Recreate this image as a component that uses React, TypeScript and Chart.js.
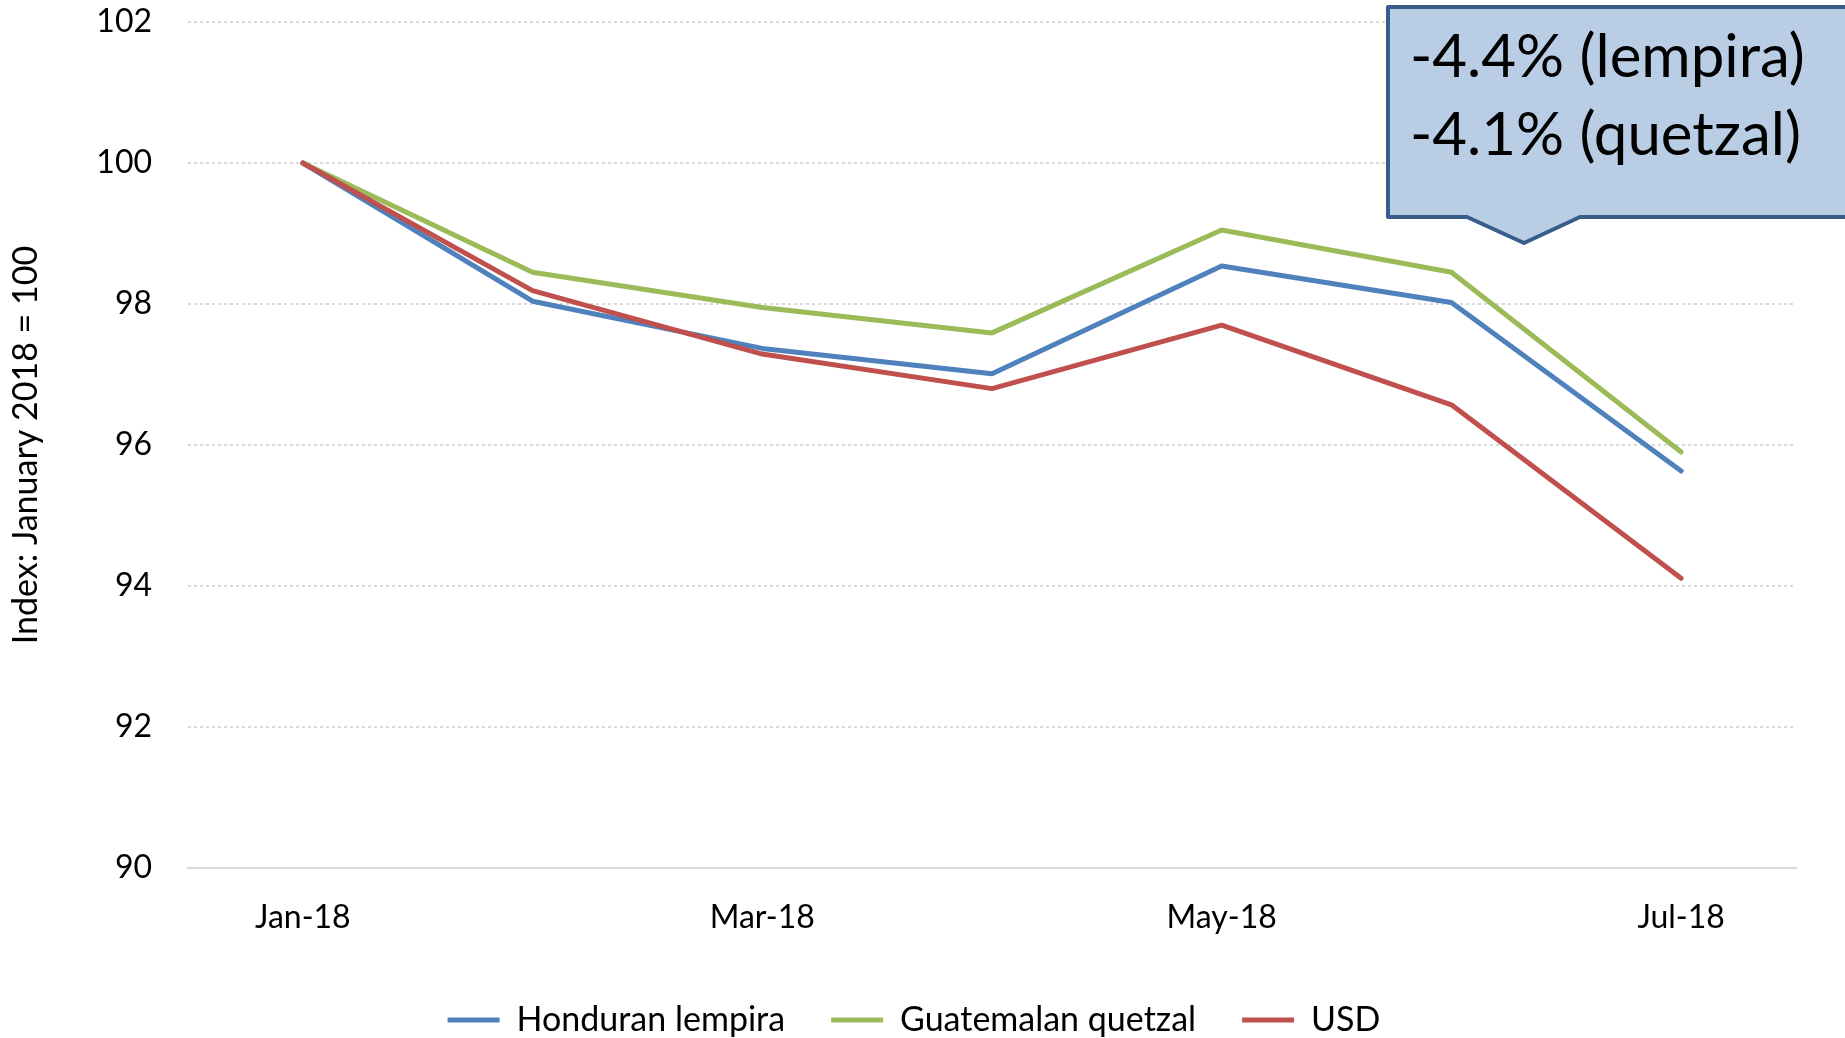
import React, { useEffect, useRef } from "react";
import { Chart, registerables } from "chart.js";

Chart.register(...registerables);

// ---- data ----
const categories = ["Jan-18", "Feb-18", "Mar-18", "Apr-18", "May-18", "Jun-18", "Jul-18"];
const lempira = [100, 98.04, 97.37, 97.01, 98.54, 98.02, 95.63];
const quetzal = [100, 98.45, 97.95, 97.59, 99.05, 98.45, 95.9];
const usd = [100, 98.19, 97.29, 96.8, 97.7, 96.57, 94.11];
const seriesNames = ["Honduran lempira", "Guatemalan quetzal", "USD"];
const yTicks = [90, 92, 94, 96, 98, 100, 102];
const yTitle = "Index: January 2018 = 100";
const calloutLines = ["-4.4% (lempira)", "-4.1% (quetzal)"];

const BLUE = "#4F81BD";
const GREEN = "#9BBB59";
const RED = "#C0504D";
const FONT = "Lato";

const calloutPlugin = {
  id: "callout",
  afterDraw(chart: any) {
    const ctx = chart.ctx as CanvasRenderingContext2D;
    const W = chart.width;
    const left = 1388, top = 7, bottom = 217, right = W + 20;
    const aL = 1467, aR = 1580, tipX = 1524, tipY = 243;
    ctx.save();
    ctx.beginPath();
    ctx.moveTo(left, top);
    ctx.lineTo(right, top);
    ctx.lineTo(right, bottom);
    ctx.lineTo(aR, bottom);
    ctx.lineTo(tipX, tipY);
    ctx.lineTo(aL, bottom);
    ctx.lineTo(left, bottom);
    ctx.closePath();
    ctx.fillStyle = "#B9CDE5";
    ctx.fill();
    ctx.lineWidth = 4;
    ctx.lineJoin = "round";
    ctx.strokeStyle = "#385D8A";
    ctx.stroke();
    ctx.font = `58px ${FONT}`;
    const w = ctx.measureText(calloutLines[0]).width;
    const size = Math.round((58 * 394) / w);
    ctx.font = `${size}px ${FONT}`;
    ctx.fillStyle = "#000";
    ctx.textAlign = "left";
    ctx.textBaseline = "alphabetic";
    ctx.fillText(calloutLines[0], 1410, 77);
    ctx.fillText(calloutLines[1], 1410, 155);
    ctx.restore();
  },
};

export default function App() {
  const ref = useRef<HTMLCanvasElement>(null);
  useEffect(() => {
    document.body.style.margin = "0";
    document.body.style.overflow = "hidden";
    const canvas = ref.current!;
    const common = {
      borderWidth: 5,
      pointRadius: 0,
      pointHoverRadius: 0,
      tension: 0,
      borderJoinStyle: "round" as const,
      borderCapStyle: "round" as const,
      fill: false,
    };
    const chart = new Chart(canvas, {
      type: "line",
      data: {
        labels: categories,
        datasets: [
          { ...common, label: seriesNames[0], data: lempira, borderColor: BLUE, backgroundColor: BLUE, order: 3 },
          { ...common, label: seriesNames[1], data: quetzal, borderColor: GREEN, backgroundColor: GREEN, order: 2 },
          { ...common, label: seriesNames[2], data: usd, borderColor: RED, backgroundColor: RED, order: 1 },
        ],
      },
      options: {
        responsive: false,
        animation: false,
        events: [],
        layout: { padding: { left: 32, right: 49, top: 22, bottom: 0 } },
        font: { family: FONT },
        plugins: {
          tooltip: { enabled: false },
          legend: {
            position: "bottom",
            maxHeight: 81,
            labels: {
              font: { family: FONT, size: 34 },
              color: "#000",
              usePointStyle: true,
              pointStyle: "line",
              pointStyleWidth: 52,
              padding: 46,
              sort: (a: any, b: any) => a.datasetIndex - b.datasetIndex,
            },
          },
        },
        scales: {
          x: {
            offset: true,
            grid: { display: false, drawTicks: false },
            border: { display: true, color: "#D9D9D9", width: 2 },
            ticks: {
              autoSkip: false,
              maxRotation: 0,
              padding: 30,
              color: "#000",
              font: { family: FONT, size: 32 },
              callback: (_v: any, i: number) => (i % 2 === 0 ? categories[i] : ""),
            },
            afterFit: (scale: any) => {
              scale.height = 89;
            },
          },
          y: {
            min: yTicks[0],
            max: yTicks[yTicks.length - 1],
            grid: { color: "#D9D9D9", lineWidth: 2, drawTicks: false },
            border: { display: false, dash: [3, 3] },
            afterBuildTicks: (scale: any) => {
              scale.ticks = yTicks.map((v) => ({ value: v }));
            },
            ticks: {
              padding: 36,
              color: "#000",
              font: { family: FONT, size: 32 },
            },
            title: {
              display: true,
              text: yTitle,
              color: "#000",
              font: { family: FONT, size: 34 },
              padding: { top: -26, bottom: 0 },
            },
            afterFit: (scale: any) => {
              scale.width = 156;
              scale.paddingTop = 0;
              scale.paddingBottom = 0;
            },
          },
        },
      },
      plugins: [calloutPlugin],
    });
    return () => chart.destroy();
  }, []);
  return (
    <div style={{ width: 1845, height: 1038 }}>
      <canvas ref={ref} width={1845} height={1038} style={{ display: "block" }} />
    </div>
  );
}
